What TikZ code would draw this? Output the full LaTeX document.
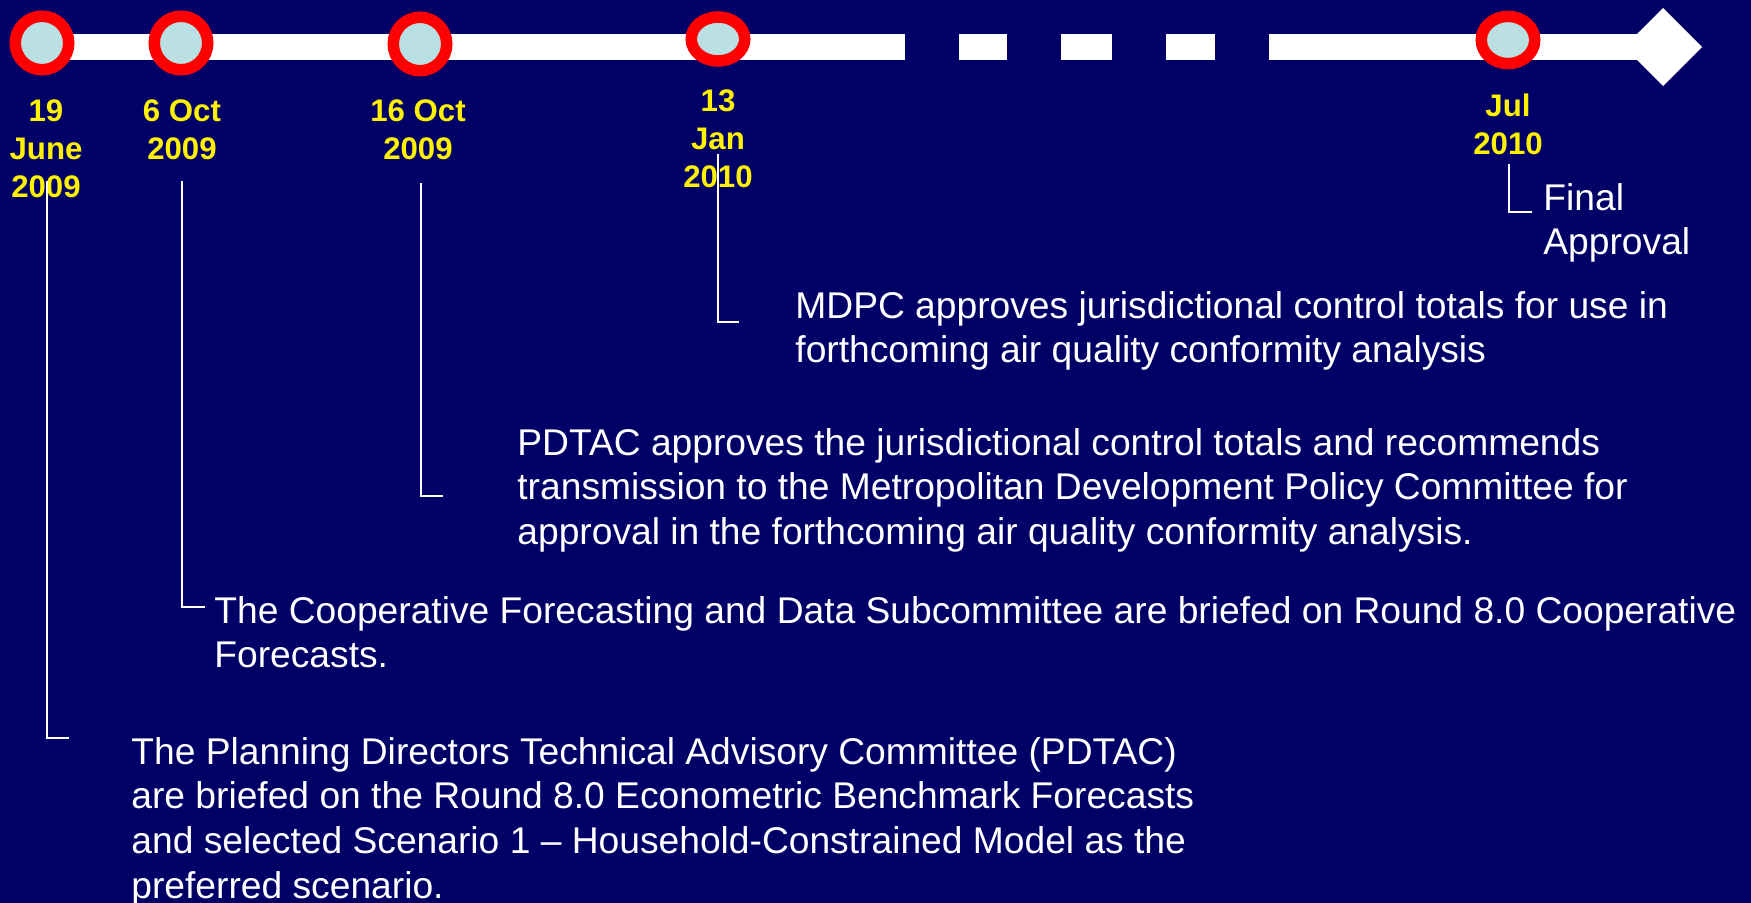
\documentclass[tikz,border=0pt]{standalone}
\usepackage{fontspec}
\setmainfont{Liberation Sans}
\usepackage{xcolor}
\usepackage{tikz}
\definecolor{navy}{HTML}{000066}
\definecolor{ringred}{HTML}{FF0000}
\definecolor{dotblue}{HTML}{BBE0E3}

\begin{document}
\begin{tikzpicture}[x=0.5pt, y=-0.5pt,
    datelabel/.style={anchor=north, inner sep=0, align=center, text=yellow, font=\fontsize{15.6}{19}\selectfont\bfseries},
    event/.style={anchor=north west, inner sep=0, align=left, text=white, font=\fontsize{18.6}{22.3}\selectfont},
    ring/.style={draw=ringred, fill=dotblue, line width=5.75pt},
    leader/.style={draw=white, line width=0.75pt}]
       % background
       \fill[navy] (0,0) rectangle (1751,903);
       \useasboundingbox (0,0) rectangle (1751,903);

       % timeline bar
       \fill[white] (42,34) rectangle (905,60);
       \foreach \a/\b in {959/1007, 1061/1112, 1166/1215}{
       \fill[white] (\a,34) rectangle (\b,60);
       }
       \fill[white] (1269,34) rectangle (1637,60);
       \fill[white] (1624,47) -- (1663,8) -- (1702,47) -- (1663,86) -- cycle; % arrow head

       % milestones
       \coordinate (m1) at (42,43);
       \coordinate (m2) at (181,43);
       \coordinate (m3) at (420,44);
       \coordinate (m4) at (718,39);
       \coordinate (m5) at (1508,40);
       \foreach \m in {m1, m2, m3}{
       \draw[ring] (\m) ellipse [x radius=26.75, y radius=26.75];
       }
       \draw[ring] (m4) ellipse [x radius=26.75, y radius=22];
       \draw[ring] (m5) ellipse [x radius=26.75, y radius=23.6];

       % dates
       \node[datelabel] (d1) at (46,99) {19\\June\\2009};
       \node[datelabel] (d2) at (182,99) {6 Oct\\2009};
       \node[datelabel] (d3) at (418,99) {16 Oct\\2009};
       \node[datelabel] (d4) at (718,89) {13\\Jan\\2010};
       \node[datelabel] (d5) at (1508,93) {Jul\\2010};

       % events
       \node[event] (t1) at (131,737) {The Planning Directors Technical Advisory Committee (PDTAC)\\are briefed on the Round 8.0 Econometric Benchmark Forecasts\\and selected Scenario 1 – Household-Constrained Model as the\\preferred scenario.};
       \node[event] (t2) at (214,596) {The Cooperative Forecasting and Data Subcommittee are briefed on Round 8.0 Cooperative\\Forecasts.};
       \node[event] (t3) at (517,428) {PDTAC approves the jurisdictional control totals and recommends\\transmission to the Metropolitan Development Policy Committee for\\approval in the forthcoming air quality conformity analysis.};
       \node[event] (t4) at (795,291) {MDPC approves jurisdictional control totals for use in\\forthcoming air quality conformity analysis};
       \node[event] (t5) at (1543,183) {Final\\Approval};

       % leaders from dates to events
       \coordinate (top1) at (47,181);   \coordinate (tick1) at (69,738);
       \coordinate (top2) at (182,181);  \coordinate (tick2) at (205,607);
       \coordinate (top3) at (421,183);  \coordinate (tick3) at (443,496);
       \coordinate (top4) at (718,154);  \coordinate (tick4) at (739,322);
       \coordinate (top5) at (1509,164); \coordinate (tick5) at (1532,212);
       \foreach \i in {1,...,5}{
       \draw[leader] (top\i) |- (tick\i);
       }
\end{tikzpicture}
\end{document}
